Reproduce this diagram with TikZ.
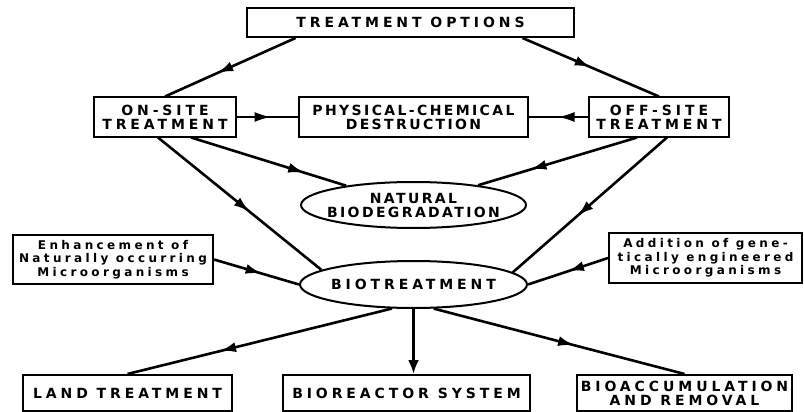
\documentclass[tikz,border=0pt]{standalone}
\usepackage{fontspec}
\setmainfont{DejaVu Sans}[LetterSpace=28]
\usetikzlibrary{shapes.geometric, arrows.meta, positioning, decorations.markings}

\tikzset{
  midarrow/.style={postaction={decorate},
    decoration={markings, mark=at position #1 with {\arrow{Latex[length=16pt,width=10pt]}}}},
  midarrow/.default=0.55
}

\begin{document}
\begin{tikzpicture}[x=1pt, y=-1pt, node distance=60pt,
  every node/.style={font=\bfseries\fontsize{14}{14}\selectfont, align=center},
  box/.style={draw, rectangle, line width=2pt, inner sep=0pt},
  oval/.style={draw, ellipse, line width=2pt, inner xsep=-30pt, inner ysep=-6pt},
  tighttext/.style={font=\bfseries\fontsize{14}{14}\selectfont\addfontfeature{LetterSpace=17}},
  smalltext/.style={font=\bfseries\fontsize{12}{13.5}\selectfont},
  link/.style={line width=2.6pt}]
\useasboundingbox (0,0) rectangle (804,412);

% top level
\node (options) [box, minimum width=327pt, minimum height=29pt] at (410.5,22.5) {TREATMENT OPTIONS};
\node (physical) [box, tighttext, minimum width=229pt, minimum height=40pt] at (413.5,117) {PHYSICAL-CHEMICAL\\DESTRUCTION};
\node (onsite) [box, minimum width=142pt, minimum height=39pt, left=61pt of physical] {ON-SITE\\TREATMENT};
\node (offsite) [box, minimum width=140pt, minimum height=39pt, right=59pt of physical] {OFF-SITE\\TREATMENT};

% biological routes
\node (natural) [oval, tighttext, minimum width=225pt, minimum height=46pt, below=43pt of physical] {NATURAL\\BIODEGRADATION};
\node (biotreat) [oval, minimum width=227pt, minimum height=47pt, below=31pt of natural] {BIOTREATMENT};
\node (enhance) [box, smalltext, minimum width=200pt, minimum height=49pt] at (113,259.5) {Enhancement of\\Naturally occurring\\Microorganisms};
\node (addition) [box, smalltext, minimum width=193pt, minimum height=50pt] at (705.5,258) {Addition of gene-\\tically engineered\\Microorganisms};

% outcomes
\node (land) [box, minimum width=209pt, minimum height=36pt] at (127.5,393) {LAND TREATMENT};
\node (reactor) [box, minimum width=247pt, minimum height=36pt] at (406.5,393) {BIOREACTOR SYSTEM};
\node (bioacc) [box, minimum width=215pt, minimum height=36pt] at (684.5,393) {BIOACCUMULATION\\AND REMOVAL};

\draw[link, midarrow=0.6] ([xshift=-115pt]options.south) -- (onsite.north);
\draw[link, midarrow=0.5] ([xshift=112pt]options.south) -- (offsite.north);
\draw[line width=1.5pt, midarrow=0.55] (onsite.east) -- (physical.west);
\draw[line width=1.5pt, midarrow=0.5] (offsite.west) -- (physical.east);
\draw[link, midarrow=0.73] ([xshift=26pt]onsite.south) -- (natural.164);
\draw[link, midarrow=0.67] ([xshift=-22pt]offsite.south) -- (natural.17);
\draw[link, midarrow=0.56] ([xshift=-7pt]onsite.south) -- (biotreat.171);
\draw[link, midarrow=0.58] ([xshift=8pt]offsite.south) -- (biotreat.7);
\draw[link, midarrow=0.56] (enhance.east) -- (biotreat.west);
\draw[link, midarrow=0.5] (addition.west) -- (biotreat.east);
\draw[link, midarrow=0.65] (biotreat.228) -- (land.north);
\draw[link, -{Latex[length=14pt,width=11pt]}] (biotreat.south) -- (biotreat.south |- reactor.north);
\draw[link, midarrow=0.56] (biotreat.310) -- (bioacc.north);
\end{tikzpicture}
\end{document}
